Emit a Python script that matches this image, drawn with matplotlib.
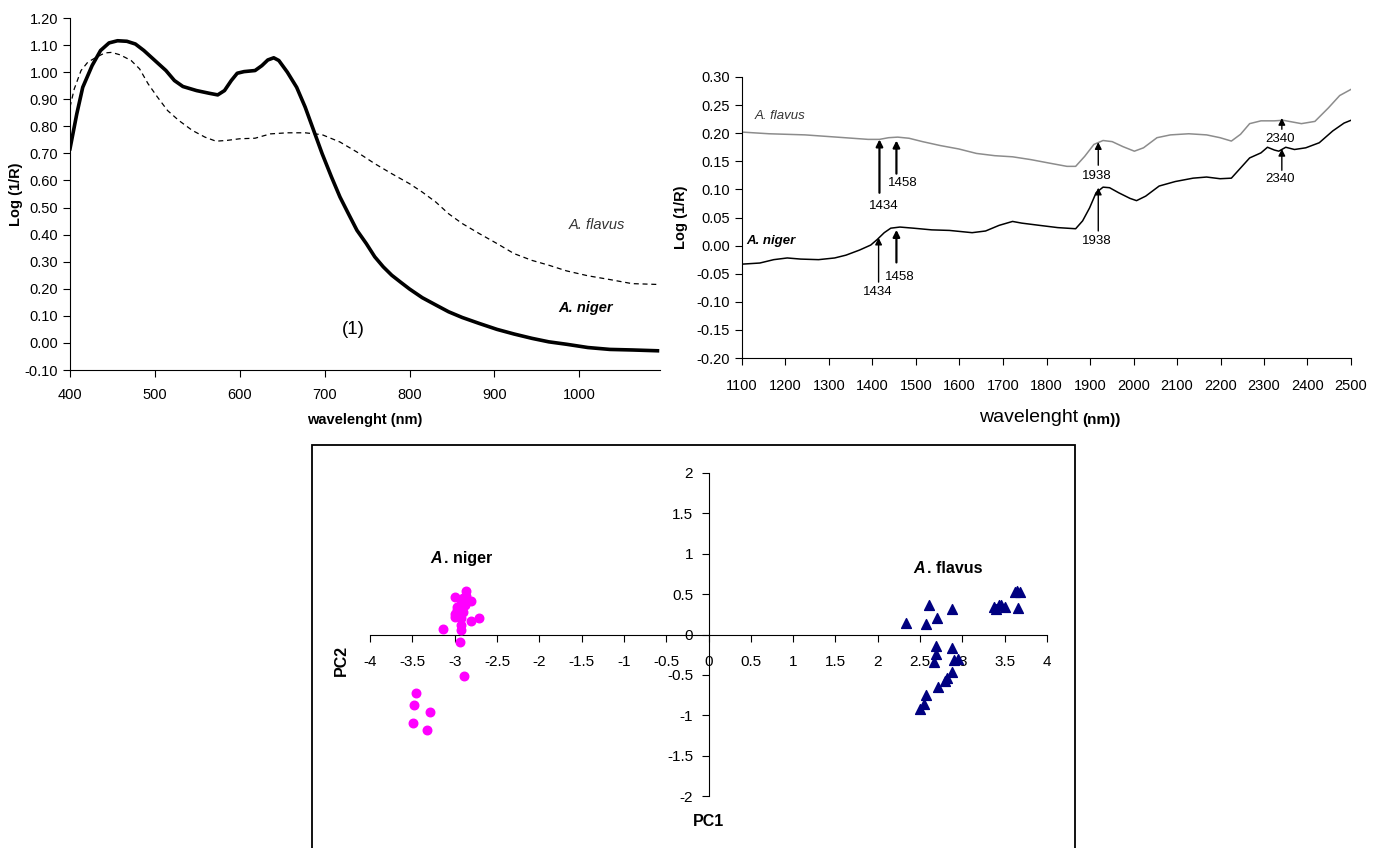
import matplotlib
matplotlib.use("Agg")
import matplotlib.pyplot as plt
from matplotlib.patches import Rectangle

plt.rcParams['font.family'] = ['Liberation Sans', 'DejaVu Sans']

# ----- Видимый спектр (панель 1) ----- #
vis_niger_nm = [400, 408, 415, 426, 436, 446, 456, 467, 477, 487, 500, 513, 523, 533, 549, 564,
                574, 582, 590, 597, 605, 618, 626, 633, 640, 646, 656, 667, 677, 687, 697, 708,
                718, 728, 738, 749, 759, 769, 779, 790, 800, 815, 831, 846, 862, 882, 903, 923,
                944, 964, 985, 1010, 1036, 1062, 1092]
vis_niger = [0.717, 0.846, 0.944, 1.024, 1.080, 1.108, 1.116, 1.114, 1.104, 1.080, 1.043, 1.006,
             0.969, 0.947, 0.932, 0.922, 0.916, 0.932, 0.969, 0.996, 1.002, 1.006, 1.024, 1.045,
             1.053, 1.043, 1.000, 0.944, 0.871, 0.785, 0.699, 0.613, 0.539, 0.477, 0.416, 0.367,
             0.318, 0.281, 0.250, 0.223, 0.199, 0.167, 0.140, 0.115, 0.094, 0.072, 0.050, 0.033,
             0.017, 0.004, -0.005, -0.017, -0.024, -0.026, -0.029]
vis_flavus_nm = [400, 405, 413, 421, 431, 441, 449, 459, 472, 482, 492, 503, 515, 528, 544, 559,
                 572, 585, 600, 618, 636, 656, 677, 697, 718, 738, 759, 779, 800, 815, 831, 846,
                 862, 882, 903, 923, 944, 964, 985, 1010, 1036, 1062, 1092]
vis_flavus = [0.871, 0.938, 1.006, 1.037, 1.055, 1.071, 1.073, 1.064, 1.043, 1.012, 0.957, 0.908,
              0.858, 0.822, 0.785, 0.760, 0.745, 0.748, 0.754, 0.756, 0.772, 0.776, 0.776, 0.769,
              0.742, 0.705, 0.662, 0.625, 0.588, 0.557, 0.520, 0.477, 0.441, 0.404, 0.367, 0.330,
              0.305, 0.287, 0.266, 0.248, 0.234, 0.219, 0.216]

# ----- БИК спектр (панель 2) ----- #
nir_flavus_nm = [1100, 1162, 1245, 1318, 1390, 1416, 1437, 1458, 1484, 1515, 1556, 1598, 1639,
                 1681, 1722, 1764, 1805, 1847, 1867, 1888, 1909, 1930, 1951, 1976, 2002, 2023,
                 2054, 2085, 2127, 2168, 2199, 2225, 2246, 2267, 2293, 2324, 2344, 2365, 2386,
                 2417, 2448, 2474, 2500]
nir_flavus = [0.202, 0.199, 0.197, 0.193, 0.189, 0.189, 0.192, 0.193, 0.191, 0.185, 0.178, 0.172,
              0.164, 0.160, 0.158, 0.153, 0.147, 0.141, 0.141, 0.159, 0.180, 0.187, 0.185, 0.176,
              0.168, 0.174, 0.192, 0.197, 0.199, 0.197, 0.192, 0.186, 0.198, 0.217, 0.222, 0.222,
              0.223, 0.220, 0.217, 0.221, 0.245, 0.267, 0.278]
nir_niger_nm = [1100, 1141, 1173, 1204, 1235, 1276, 1313, 1339, 1370, 1396, 1411, 1427, 1442,
                1463, 1494, 1536, 1577, 1629, 1660, 1691, 1722, 1743, 1784, 1826, 1867, 1883,
                1899, 1914, 1930, 1945, 1966, 1992, 2007, 2028, 2059, 2096, 2137, 2168, 2199,
                2225, 2246, 2267, 2293, 2308, 2324, 2334, 2350, 2370, 2396, 2427, 2458, 2484, 2500]
nir_niger = [-0.033, -0.031, -0.025, -0.022, -0.024, -0.025, -0.022, -0.017, -0.008, 0.001,
             0.011, 0.023, 0.031, 0.033, 0.031, 0.028, 0.027, 0.023, 0.026, 0.036, 0.043, 0.040,
             0.036, 0.032, 0.030, 0.044, 0.067, 0.094, 0.104, 0.103, 0.094, 0.084, 0.080, 0.088,
             0.106, 0.114, 0.120, 0.122, 0.119, 0.120, 0.138, 0.156, 0.165, 0.175, 0.170, 0.168,
             0.175, 0.171, 0.174, 0.183, 0.204, 0.218, 0.223]

# стрелки: (подпись, x стрелки, y начала, y острия, x подписи, y подписи, толщина)
arrows = [
    ("1434", 1416, 0.094, 0.189, 1427, 0.070, 1.6),
    ("1458", 1455, 0.128, 0.187, 1470, 0.112, 1.6),
    ("1938", 1919, 0.143, 0.184, 1916, 0.124, 1.0),
    ("2340", 2341, 0.207, 0.227, 2336, 0.189, 1.0),
    ("1434", 1414, -0.065, 0.014, 1411, -0.083, 1.0),
    ("1458", 1455, -0.030, 0.028, 1463, -0.055, 1.6),
    ("1938", 1919, 0.026, 0.103, 1916, 0.008, 1.0),
    ("2340", 2341, 0.134, 0.172, 2336, 0.118, 1.0),
]

# ----- PCA (панель 3) ----- #
niger_pc1 = [-2.86, -2.87, -2.99, -2.81, -2.90, -2.97, -2.92, -2.88, -2.99, -2.94, -2.90, -2.97,
             -2.71, -2.81, -2.93, -2.93, -3.14, -2.93, -2.94, -2.89, -3.46, -3.48, -3.29, -3.49,
             -3.33, -2.95, -2.90, -3.00, -2.92]
niger_pc2 = [0.54, 0.48, 0.46, 0.41, 0.40, 0.34, 0.34, 0.36, 0.26, 0.28, 0.28, 0.30,
             0.20, 0.17, 0.20, 0.12, 0.07, 0.06, -0.09, -0.51, -0.73, -0.87, -0.96, -1.10,
             -1.18, 0.32, 0.45, 0.22, 0.38]
flavus_pc1 = [2.33, 2.57, 2.61, 2.70, 2.88, 3.37, 3.40, 3.43, 3.46, 3.50, 3.62, 3.65, 3.68, 3.66,
              2.69, 2.69, 2.67, 2.88, 2.90, 2.95, 2.88, 2.82, 2.80, 2.71, 2.57, 2.55, 2.50]
flavus_pc2 = [0.145, 0.13, 0.36, 0.21, 0.31, 0.34, 0.32, 0.37, 0.36, 0.34, 0.53, 0.54, 0.53, 0.33,
              -0.14, -0.24, -0.34, -0.17, -0.32, -0.30, -0.46, -0.54, -0.58, -0.65, -0.75, -0.86, -0.92]

W, H = 1385, 848
fig = plt.figure(figsize=(W / 100, H / 100), dpi=100)


def px_axes(x0, y0, x1, y1):
    # прямоугольник в пикселях (сверху вниз) -> координаты фигуры
    return fig.add_axes([x0 / W, 1 - y1 / H, (x1 - x0) / W, (y1 - y0) / H])


# ----- Панель 1 ----- #
ax1 = px_axes(70, 18, 660, 370)
ax1.plot(vis_flavus_nm, vis_flavus, color="black", lw=0.9, ls=(0, (4, 3)))
ax1.plot(vis_niger_nm, vis_niger, color="black", lw=2.6)
ax1.set_xlim(400, 1095)
ax1.set_ylim(-0.10, 1.20)
ax1.set_xticks(range(400, 1001, 100))
ax1.set_yticks([i / 10 for i in range(-1, 13)])
ax1.set_yticklabels([f"{i / 10:.2f}" for i in range(-1, 13)])
for s in ("top", "right"):
    ax1.spines[s].set_visible(False)
ax1.tick_params(direction="out", labelsize=10.5, length=5)
ax1.tick_params(axis="x", pad=8)
ax1.set_xlabel("wavelenght (nm)", fontweight="bold", fontsize=10.5, labelpad=8)
ax1.set_ylabel("Log (1/R)", fontweight="bold", fontsize=10.5, labelpad=1)
ax1.text(1021, 0.436, "A. flavus", style="italic", fontsize=10.5, ha="center", va="center",
         color="#333333")
ax1.text(1007, 0.129, "A. niger", style="italic", fontweight="bold", fontsize=10.5,
         ha="center", va="center")
ax1.text(734, 0.048, "(1)", fontsize=13.5, ha="center", va="center")

# ----- Панель 2 ----- #
ax2 = px_axes(742, 77, 1351, 358)
ax2.plot(nir_flavus_nm, nir_flavus, color="#8c8c8c", lw=1.1)
ax2.plot(nir_niger_nm, nir_niger, color="black", lw=1.1)
ax2.set_xlim(1100, 2500)
ax2.set_ylim(-0.20, 0.30)
ax2.set_xticks(range(1100, 2501, 100))
ax2.set_yticks([i / 100 for i in range(-20, 31, 5)])
ax2.set_yticklabels([f"{i / 100:.2f}" for i in range(-20, 31, 5)])
for s in ("top", "right"):
    ax2.spines[s].set_visible(False)
ax2.tick_params(direction="out", labelsize=10.5, length=5)
ax2.tick_params(axis="x", pad=10)
ax2.set_ylabel("Log (1/R)", fontweight="bold", fontsize=10.5, labelpad=6)
for lab, x, y0, y1, tx, ty, lw in arrows:
    ax2.annotate("", xy=(x, y1), xytext=(x, y0),
                 arrowprops=dict(arrowstyle="-|>", color="black", lw=lw,
                                 mutation_scale=10, shrinkA=0, shrinkB=0))
    ax2.text(tx, ty, lab, fontsize=9.5, ha="center", va="center")
ax2.text(1188, 0.231, "A. flavus", style="italic", fontsize=9.5, ha="center", va="center",
         color="#333333")
ax2.text(1167, 0.008, "A. niger", style="italic", fontweight="bold", fontsize=9.5,
         ha="center", va="center")
fig.text(1078 / W, 1 - 418 / H, "wavelenght", fontsize=14, ha="right", va="center")
fig.text(1082 / W, 1 - 420 / H, "(nm))", fontsize=11, fontweight="bold", ha="left", va="center")

# ----- Панель 3 ----- #
fig.patches.append(Rectangle((312 / W, -0.01), (1075 - 312) / W, 1 - 445 / H + 0.01,
                             transform=fig.transFigure, fill=False, lw=1.3, ec="black"))
ax3 = px_axes(370, 473, 1047, 796)
ax3.scatter(niger_pc1, niger_pc2, s=38, color="#ff00ff", marker="o", zorder=3)
ax3.scatter(flavus_pc1, flavus_pc2, s=50, color="#000080", marker="^", zorder=3)
ax3.set_xlim(-4, 4)
ax3.set_ylim(-2, 2)
ax3.set_xticks([i / 2 for i in range(-8, 9)])
ax3.set_xticklabels([f"{i / 2:g}" for i in range(-8, 9)])
ax3.set_yticks([i / 2 for i in range(-4, 5)])
ax3.set_yticklabels([f"{i / 2:g}" for i in range(-4, 5)])
ax3.spines["left"].set_position(("data", 0))
ax3.spines["bottom"].set_position(("data", 0))
for s in ("top", "right"):
    ax3.spines[s].set_visible(False)
ax3.patch.set_alpha(0)
ax3.tick_params(direction="out", labelsize=11, length=5)
ax3.tick_params(axis="x", pad=10)
ax3.tick_params(axis="y", pad=6)
ax3.text(-3.15, 0.94, "A", style="italic", fontweight="bold", fontsize=11.5,
         ha="right", va="center")
ax3.text(-3.13, 0.94, ". niger", fontweight="bold", fontsize=11.5, ha="left", va="center")
ax3.text(2.56, 0.82, "A", style="italic", fontweight="bold", fontsize=11.5,
         ha="right", va="center")
ax3.text(2.58, 0.82, ". flavus", fontweight="bold", fontsize=11.5, ha="left", va="center")
fig.text(341 / W, 1 - 660 / H, "PC2", fontweight="bold", fontsize=11.5, rotation=90,
         ha="center", va="center")
fig.text(709 / W, 1 - 822 / H, "PC1", fontweight="bold", fontsize=11.5,
         ha="center", va="center")

fig.savefig("out.png", dpi=100)
